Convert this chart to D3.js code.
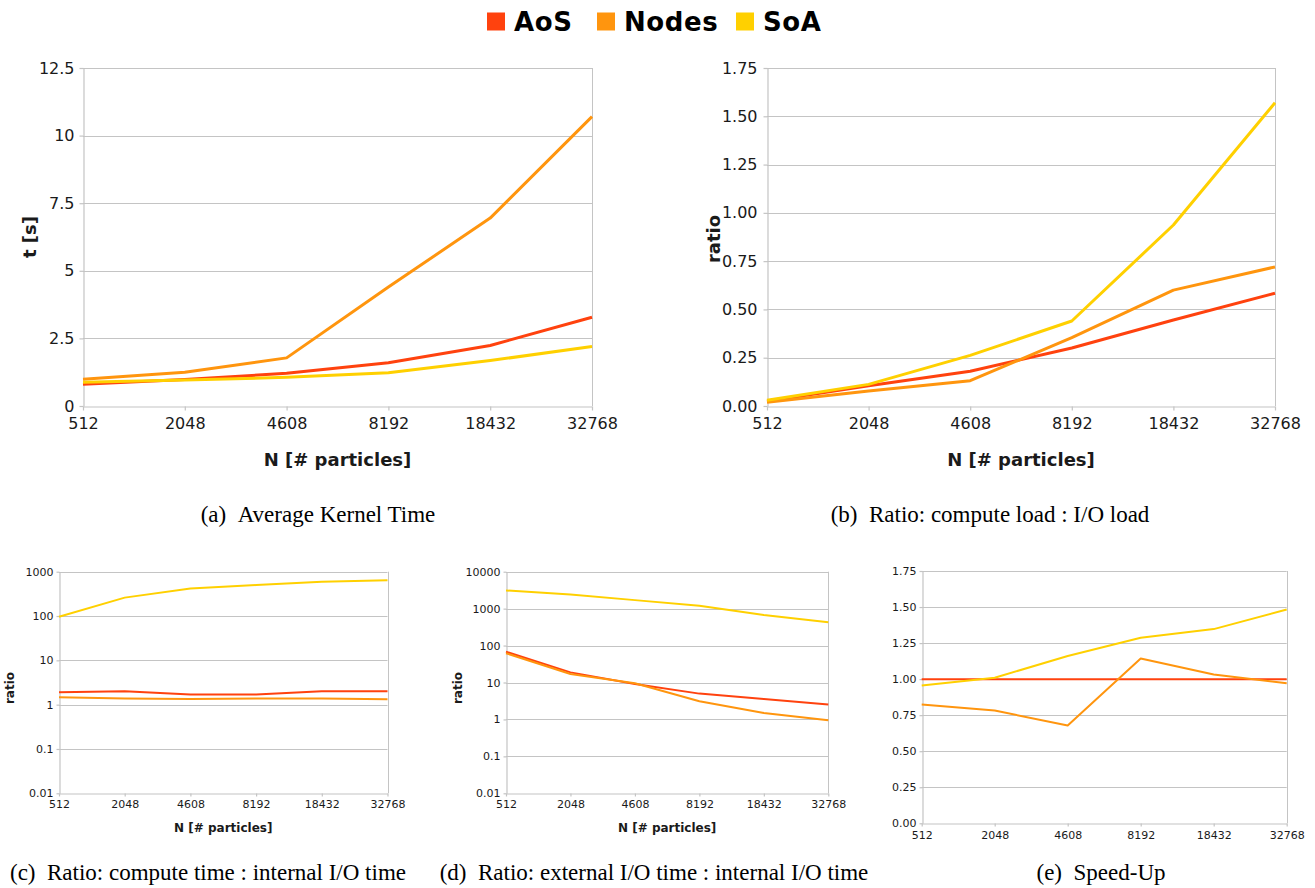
<!DOCTYPE html>
<html>
<head>
<meta charset="utf-8">
<script src="https://cdn.jsdelivr.net/npm/d3@7/dist/d3.min.js"></script>
<style>
  html, body { margin: 0; padding: 0; background: #fff; }
  svg { display: block; }
</style>
</head>
<body>
<svg id="fig" width="1315" height="888"></svg>
<script>
// ---- data -------------------------------------------------------------
const categories = ["512", "2048", "4608", "8192", "18432", "32768"];
const seriesNames = ["AoS", "Nodes", "SoA"];

// (a) average kernel time [s]
const kernelTimeAoS   = [0.80, 0.98, 1.21, 1.60, 2.24, 3.28];
const kernelTimeNodes = [0.99, 1.25, 1.78, 4.40, 6.95, 10.70];
const kernelTimeSoA   = [0.88, 0.96, 1.06, 1.23, 1.68, 2.20];
const kernelTimeTicks = ["0", "2.5", "5", "7.5", "10", "12.5"];

// (b) compute load : I/O load
const loadRatioAoS   = [0.025, 0.105, 0.18, 0.30, 0.445, 0.584];
const loadRatioNodes = [0.02, 0.078, 0.131, 0.354, 0.60, 0.72];
const loadRatioSoA   = [0.03, 0.112, 0.262, 0.44, 0.937, 1.57];
const loadRatioTicks = ["0.00", "0.25", "0.50", "0.75", "1.00", "1.25", "1.50", "1.75"];

// (c) compute time : internal I/O time
const computeIoAoS   = [1.9, 2.0, 1.7, 1.7, 2.0, 2.0];
const computeIoNodes = [1.47, 1.37, 1.35, 1.37, 1.37, 1.33];
const computeIoSoA   = [96, 260, 420, 500, 590, 640];
const computeIoTicks = ["0.01", "0.1", "1", "10", "100", "1000"];

// (d) external I/O time : internal I/O time
const externalIoAoS   = [68, 18.8, 9.1, 5.0, 3.55, 2.55];
const externalIoNodes = [62, 17, 9.5, 3.1, 1.5, 0.95];
const externalIoSoA   = [3100, 2400, 1700, 1200, 670, 425];
const externalIoTicks = ["0.01", "0.1", "1", "10", "100", "1000", "10000"];

// (e) speed-up
const speedUpAoS   = [1.0, 1.0, 1.0, 1.0, 1.0, 1.0];
const speedUpNodes = [0.824, 0.782, 0.678, 1.143, 1.032, 0.972];
const speedUpSoA   = [0.956, 1.01, 1.16, 1.287, 1.347, 1.483];
const speedUpTicks = ["0.00", "0.25", "0.50", "0.75", "1.00", "1.25", "1.50", "1.75"];

// ---- styling ----------------------------------------------------------
const colors = { AoS: "#ff420e", Nodes: "#ff950e", SoA: "#ffd000" };
const gridColor = "#c4c4c4";
const textColor = "#1a1a1a";
const sansFont = "'DejaVu Sans', Verdana, sans-serif";
const serifFont = "'Liberation Serif', 'Times New Roman', serif";

const svg = d3.select("#fig");

// ---- legend -----------------------------------------------------------
const legendItems = [
  { name: seriesNames[0], x: 487 },
  { name: seriesNames[1], x: 597 },
  { name: seriesNames[2], x: 736 }
];
const legend = svg.append("g");
legendItems.forEach(it => {
  legend.append("rect")
    .attr("x", it.x).attr("y", 12.5).attr("width", 18).attr("height", 18)
    .attr("fill", colors[it.name]);
  legend.append("text")
    .attr("x", it.x + 27).attr("y", 30.5)
    .attr("font-family", sansFont).attr("font-weight", "bold")
    .attr("font-size", 26).attr("letter-spacing", 0.6).attr("fill", "#000")
    .text(it.name);
});

// ---- generic panel ----------------------------------------------------
function drawPanel(p) {
  const g = svg.append("g");
  const x = d3.scalePoint().domain(categories).range([p.left, p.right]).padding(0);
  const y = (p.log ? d3.scaleLog() : d3.scaleLinear())
    .domain(p.domain).range([p.bottom, p.top]);
  const tickVals = p.tickLabels.map(Number);

  // horizontal grid
  g.append("g").selectAll("line").data(tickVals.slice(1)).join("line")
    .attr("x1", p.left).attr("x2", p.right)
    .attr("y1", d => Math.round(y(d)) + 0.5).attr("y2", d => Math.round(y(d)) + 0.5)
    .attr("stroke", gridColor).attr("stroke-width", 1);
  // right border
  g.append("line")
    .attr("x1", Math.round(p.right) + 0.5).attr("x2", Math.round(p.right) + 0.5)
    .attr("y1", p.top).attr("y2", p.bottom)
    .attr("stroke", gridColor);

  // y axis
  const yAxis = d3.axisLeft(y).tickValues(tickVals)
    .tickFormat((d, i) => p.tickLabels[i])
    .tickSize(p.tickLen).tickSizeOuter(0).tickPadding(p.yPad);
  const ya = g.append("g").attr("transform", `translate(${Math.round(p.left) + 0.5},0)`).call(yAxis);

  // x axis
  const xAxis = d3.axisBottom(x).tickSize(p.tickLen).tickSizeOuter(0).tickPadding(p.xPad);
  const xa = g.append("g").attr("transform", `translate(0,${Math.round(p.bottom) + 0.5})`).call(xAxis);

  [ya, xa].forEach(a => {
    a.select(".domain").attr("stroke", gridColor).attr("stroke-width", 1.2);
    a.selectAll(".tick line").attr("stroke", gridColor).attr("stroke-width", 1.2);
    a.selectAll(".tick text")
      .attr("font-family", sansFont).attr("font-size", p.tickFont)
      .attr("fill", textColor);
  });

  // series lines
  const line = d3.line().x((d, i) => x(categories[i])).y(d => y(d));
  p.series.forEach(s => {
    g.append("path").datum(s.values)
      .attr("d", line)
      .attr("fill", "none")
      .attr("stroke", colors[s.name])
      .attr("stroke-width", p.lineWidth)
      .attr("stroke-linejoin", "round")
      .attr("stroke-linecap", "butt");
  });

  // axis titles
  if (p.xTitle) {
    g.append("text")
      .attr("x", (p.left + p.right) / 2).attr("y", p.xTitleY)
      .attr("text-anchor", "middle")
      .attr("font-family", sansFont).attr("font-weight", "bold")
      .attr("font-size", p.titleFont).attr("fill", textColor)
      .text(p.xTitle);
  }
  if (p.yTitle) {
    g.append("text")
      .attr("transform", `translate(${p.yTitleX},${p.yTitleY}) rotate(-90)`)
      .attr("text-anchor", "middle")
      .attr("font-family", sansFont).attr("font-weight", "bold")
      .attr("font-size", p.titleFont).attr("fill", textColor)
      .text(p.yTitle);
  }

  // caption
  g.append("text")
    .attr("x", p.captionX).attr("y", p.captionY)
    .attr("text-anchor", "middle")
    .attr("font-family", serifFont).attr("font-size", 23)
    .attr("fill", "#000")
    .text(p.caption);
}

const mk = (a, b, c) => [
  { name: "AoS", values: a },
  { name: "Nodes", values: b },
  { name: "SoA", values: c }
];

// (a)
drawPanel({
  left: 83, right: 592, top: 68, bottom: 406,
  domain: [0, 12.5], tickLabels: kernelTimeTicks,
  series: mk(kernelTimeAoS, kernelTimeNodes, kernelTimeSoA),
  lineWidth: 3, tickFont: 16, titleFont: 18, tickLen: 4, xPad: 7, yPad: 5,
  xTitle: "N [# particles]", xTitleY: 466,
  yTitle: "t [s]", yTitleX: 36, yTitleY: 237,
  caption: "(a)\u2002Average Kernel Time", captionX: 318, captionY: 522
});

// (b)
drawPanel({
  left: 767, right: 1275, top: 68, bottom: 406,
  domain: [0, 1.75], tickLabels: loadRatioTicks,
  series: mk(loadRatioAoS, loadRatioNodes, loadRatioSoA),
  lineWidth: 3, tickFont: 16, titleFont: 18, tickLen: 4, xPad: 7, yPad: 6,
  xTitle: "N [# particles]", xTitleY: 466,
  yTitle: "ratio", yTitleX: 720, yTitleY: 239,
  caption: "(b)\u2002Ratio: compute load : I/O load", captionX: 990, captionY: 522
});

// (c)
drawPanel({
  left: 59, right: 387.5, top: 571.7, bottom: 793.3, log: true,
  domain: [0.01, 1000], tickLabels: computeIoTicks,
  series: mk(computeIoAoS, computeIoNodes, computeIoSoA),
  lineWidth: 2, tickFont: 11, titleFont: 12, tickLen: 3, xPad: 4, yPad: 3,
  xTitle: "N [# particles]", xTitleY: 832,
  yTitle: "ratio", yTitleX: 14, yTitleY: 688,
  caption: "(c)\u2002Ratio: compute time : internal I/O time", captionX: 208, captionY: 880
});

// (d)
drawPanel({
  left: 506, right: 828.3, top: 571.7, bottom: 793.3, log: true,
  domain: [0.01, 10000], tickLabels: externalIoTicks,
  series: mk(externalIoAoS, externalIoNodes, externalIoSoA),
  lineWidth: 2, tickFont: 11, titleFont: 12, tickLen: 3, xPad: 4, yPad: 3,
  xTitle: "N [# particles]", xTitleY: 832,
  yTitle: "ratio", yTitleX: 462, yTitleY: 688,
  caption: "(d)\u2002Ratio: external I/O time : internal I/O time", captionX: 654, captionY: 880
});

// (e)
drawPanel({
  left: 921.7, right: 1286.7, top: 571, bottom: 823.3,
  domain: [0, 1.75], tickLabels: speedUpTicks,
  series: mk(speedUpAoS, speedUpNodes, speedUpSoA),
  lineWidth: 2, tickFont: 11, titleFont: 12, tickLen: 3, xPad: 5, yPad: 3,
  caption: "(e)\u2002Speed-Up", captionX: 1101, captionY: 880
});
</script>
</body>
</html>
